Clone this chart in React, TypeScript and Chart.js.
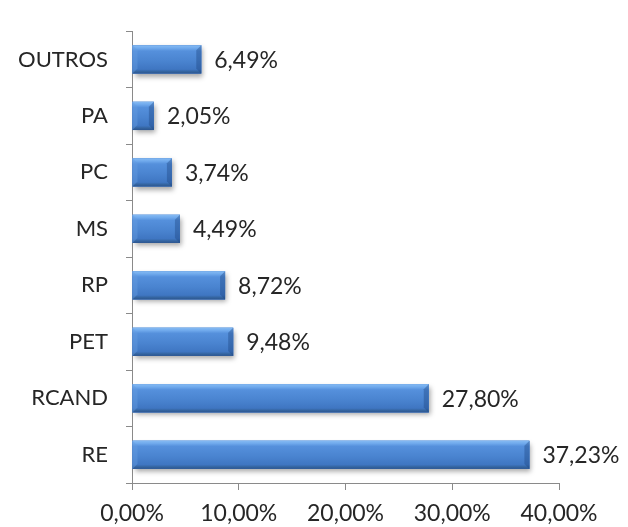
import React, { useEffect, useRef } from "react";
import { Chart, registerables } from "chart.js";

Chart.register(...registerables);

const categories = ["OUTROS", "PA", "PC", "MS", "RP", "PET", "RCAND", "RE"];
const values = [6.49, 2.05, 3.74, 4.49, 8.72, 9.48, 27.8, 37.23];
const xTicks = [0, 10, 20, 30, 40];

const FONT = "Lato, 'Open Sans', sans-serif";
const fmt = (v: number) => v.toFixed(2).replace(".", ",") + "%";

const barStyler = {
  id: "barStyler",
  beforeDatasetsDraw(chart: any) {
    const ctx = chart.ctx;
    const meta = chart.getDatasetMeta(0);
    ctx.save();
    meta.data.forEach((el: any) => {
      const p = el.getProps(["x", "y", "base", "height"], true);
      const left = Math.min(p.base, p.x);
      const w = Math.abs(p.x - p.base);
      const top = p.y - p.height / 2;
      ctx.shadowColor = "rgba(0,0,0,0.35)";
      ctx.shadowBlur = 5;
      ctx.shadowOffsetX = 2;
      ctx.shadowOffsetY = 3;
      ctx.fillStyle = "#4a82cf";
      ctx.fillRect(left, top, w, p.height);
    });
    ctx.restore();
  },
  afterDatasetsDraw(chart: any) {
    const ctx = chart.ctx;
    const meta = chart.getDatasetMeta(0);
    ctx.save();
    meta.data.forEach((el: any, i: number) => {
      const p = el.getProps(["x", "y", "base", "height"], true);
      const left = Math.min(p.base, p.x);
      const right = Math.max(p.base, p.x);
      const w = right - left;
      const top = p.y - p.height / 2;
      const h = p.height;
      const g = ctx.createLinearGradient(0, top, 0, top + h);
      g.addColorStop(0, "#86bbf3");
      g.addColorStop(0.1, "#6fa9ec");
      g.addColorStop(0.2, "#5590dc");
      g.addColorStop(0.55, "#4a84d0");
      g.addColorStop(0.85, "#3f76c2");
      g.addColorStop(0.93, "#34649f");
      g.addColorStop(1, "#2c5590");
      ctx.fillStyle = g;
      ctx.fillRect(left, top, w, h);
      const b = Math.min(5, w / 3);
      // left bevel
      ctx.fillStyle = "rgba(100,155,225,0.45)";
      ctx.beginPath();
      ctx.moveTo(left, top);
      ctx.lineTo(left + b, top + b);
      ctx.lineTo(left + b, top + h - b);
      ctx.lineTo(left, top + h);
      ctx.closePath();
      ctx.fill();
      // right bevel
      ctx.fillStyle = "rgba(30,70,130,0.4)";
      ctx.beginPath();
      ctx.moveTo(right, top);
      ctx.lineTo(right - b, top + b);
      ctx.lineTo(right - b, top + h - b);
      ctx.lineTo(right, top + h);
      ctx.closePath();
      ctx.fill();
      // label
      ctx.fillStyle = "#262626";
      ctx.font = "23px " + FONT;
      ctx.textAlign = "left";
      ctx.textBaseline = "middle";
      ctx.fillText(fmt(values[i]), right + 13, p.y + 1);
    });
    ctx.restore();
  },
};

export default function App() {
  const ref = useRef<HTMLCanvasElement | null>(null);
  useEffect(() => {
    if (!ref.current) return;
    const chart = new Chart(ref.current, {
      type: "bar",
      data: {
        labels: categories,
        datasets: [
          {
            data: values,
            backgroundColor: "#4a82cf",
            borderWidth: 0,
            barPercentage: 0.5,
            categoryPercentage: 1,
          },
        ],
      },
      options: {
        indexAxis: "y",
        animation: false,
        responsive: false,
        maintainAspectRatio: false,
        layout: { padding: { top: 7, right: 69, left: 0, bottom: 0 } },
        plugins: { legend: { display: false }, tooltip: { enabled: false } },
        scales: {
          x: {
            min: 0,
            max: 40,
            afterBuildTicks: (s: any) => {
              s.ticks = xTicks.map((v) => ({ value: v }));
            },
            afterFit: (s: any) => {
              s.height = 44;
            },
            grid: {
              drawOnChartArea: false,
              drawTicks: true,
              tickLength: 7,
              color: "#8a8a8a",
            },
            border: { color: "#8a8a8a", width: 1 },
            ticks: {
              color: "#262626",
              font: { family: FONT, size: 23 },
              padding: 10,
              maxRotation: 0,
              autoSkip: false,
              callback: (v: any) => fmt(Number(v)),
            },
          },
          y: {
            afterFit: (s: any) => {
              s.width = 132;
            },
            grid: {
              drawOnChartArea: false,
              drawTicks: true,
              tickLength: 6,
              color: "#8a8a8a",
            },
            border: { color: "#8a8a8a", width: 1 },
            ticks: {
              color: "#262626",
              font: { family: FONT, size: 22 },
              padding: 18,
            },
          },
        },
      },
      plugins: [barStyler],
    } as any);
    return () => chart.destroy();
  }, []);
  return (
    <div style={{ position: "fixed", left: 0, top: 0, width: 628, height: 527, background: "#fff" }}>
      <canvas ref={ref} width={628} height={527} style={{ display: "block" }} />
    </div>
  );
}
